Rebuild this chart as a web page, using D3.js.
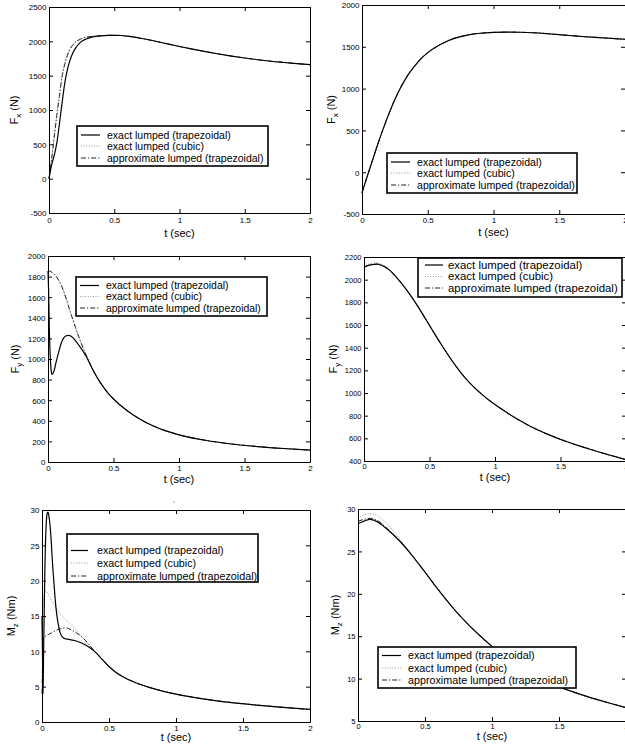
<!DOCTYPE html>
<html>
<head>
<meta charset="utf-8">
<script src="https://cdn.jsdelivr.net/npm/d3@7"></script>
<style>
  body { margin: 0; background: #fff; }
  svg { display: block; }
</style>
</head>
<body>
<div id="chart"></div>
<script>
const FONT = '"Liberation Sans", Arial, Helvetica, sans-serif';

// Shared
const xTicks = [0, 0.5, 1, 1.5, 2];
const seriesNames = ['exact lumped (trapezoidal)', 'exact lumped (cubic)', 'approximate lumped (trapezoidal)'];

// Top left: F_x, first case
// cubic / approx arrays only hold the start, where they leave the trapezoidal curve
const fxLeftT = [0, 0.02, 0.04, 0.06, 0.08, 0.1, 0.12, 0.14, 0.16, 0.18, 0.2, 0.24, 0.28, 0.32, 0.36, 0.4, 0.45, 0.5,
  0.55, 0.6, 0.7, 0.8, 0.9, 1.0, 1.1, 1.2, 1.3, 1.4, 1.5, 1.6, 1.7, 1.8, 1.9, 2.0];
const fxLeftTrap = [0, 200, 340, 520, 800, 1100, 1380, 1580, 1720, 1820, 1890, 1985, 2030, 2057, 2072, 2080, 2086, 2088,
  2085, 2075, 2045, 2008, 1966, 1925, 1886, 1850, 1816, 1785, 1757, 1732, 1710, 1692, 1675, 1660];
const fxLeftCubic = [0, 300, 640, 960, 1240, 1510, 1690, 1810, 1895, 1950, 1990, 2035, 2060, 2072, 2079, 2083, 2087, 2088];
const fxLeftApprox = [0, 280, 600, 920, 1200, 1480, 1660, 1790, 1880, 1940, 1985, 2030, 2057, 2070, 2077, 2082, 2086, 2088];
const fxLeftTicks = [-500, 0, 500, 1000, 1500, 2000, 2500];

// Top right: F_x, second case (all three curves coincide)
const fxRightT = [0, 0.05, 0.1, 0.15, 0.2, 0.25, 0.3, 0.35, 0.4, 0.45, 0.5, 0.6, 0.7, 0.8, 0.9, 1.0,
  1.1, 1.2, 1.3, 1.4, 1.5, 1.6, 1.7, 1.8, 1.9, 2.0];
const fxRightTrap = [-245, 0, 240, 470, 680, 870, 1030, 1165, 1270, 1360, 1430, 1530, 1600, 1640, 1662, 1672,
  1676, 1674, 1668, 1658, 1645, 1632, 1620, 1610, 1600, 1590];
const fxRightCubic = [];
const fxRightApprox = [];
const fxRightTicks = [-500, 0, 500, 1000, 1500, 2000];

// Middle left: F_y, first case
const fyLeftT = [0, 0.004, 0.01, 0.018, 0.025, 0.032, 0.045, 0.06, 0.08, 0.1, 0.12, 0.14, 0.155, 0.17, 0.19, 0.21,
  0.23, 0.25, 0.27, 0.29, 0.3, 0.35, 0.4, 0.45, 0.5, 0.6, 0.7, 0.8, 0.9, 1.0, 1.2, 1.4, 1.6, 1.8, 2.0];
const fyLeftTrap = [1855, 1700, 1300, 1000, 880, 850, 880, 960, 1060, 1150, 1205, 1226, 1230, 1226, 1207, 1178,
  1143, 1108, 1070, 1030, 1005, 877, 770, 682, 612, 502, 417, 352, 302, 264, 211, 175, 150, 131, 116];
const fyLeftCubic = [1858, 1858, 1857, 1853, 1848, 1843, 1829, 1808, 1770, 1722, 1657, 1582, 1522, 1461, 1382, 1306,
  1234, 1166, 1102, 1042, 1012];
const fyLeftApprox = [1855, 1855, 1854, 1850, 1845, 1840, 1826, 1805, 1768, 1720, 1655, 1580, 1520, 1460, 1381, 1305,
  1233, 1165, 1101, 1041, 1012];
const fyLeftTicks = [0, 200, 400, 600, 800, 1000, 1200, 1400, 1600, 1800, 2000];

// Middle right: F_y, second case
const fyRightT = [0, 0.05, 0.1, 0.15, 0.2, 0.25, 0.3, 0.35, 0.4, 0.45, 0.5, 0.55, 0.6, 0.65, 0.7, 0.75, 0.8, 0.85,
  0.9, 0.95, 1.0, 1.05, 1.1, 1.15, 1.2, 1.25, 1.3, 1.35, 1.4, 1.45, 1.5, 1.55, 1.6, 1.65, 1.7, 1.75, 1.8, 1.85,
  1.9, 1.95, 2.0];
const fyRightTrap = [2110, 2130, 2136, 2118, 2080, 2018, 1948, 1870, 1784, 1692, 1597, 1502, 1410, 1322, 1240, 1165,
  1098, 1040, 988, 941, 898, 858, 820, 784, 750, 718, 689, 662, 637, 613, 591, 570, 550, 531, 513, 495, 477, 460,
  444, 428, 412];
const fyRightCubic = [2115, 2142, 2148, 2128, 2082];
const fyRightApprox = [2112, 2133, 2139, 2121, 2080];
const fyRightTicks = [400, 600, 800, 1000, 1200, 1400, 1600, 1800, 2000, 2200];

// Bottom left: M_z, first case
const mzLeftT = [0, 0.004, 0.008, 0.012, 0.02, 0.03, 0.04, 0.045, 0.05, 0.06, 0.07, 0.08, 0.09, 0.1, 0.11, 0.12,
  0.13, 0.14, 0.16, 0.18, 0.2, 0.25, 0.3, 0.35, 0.4, 0.45, 0.5, 0.55, 0.6, 0.7, 0.8, 0.9, 1.0, 1.2, 1.4, 1.6, 1.8, 2.0];
const mzLeftTrap = [15, 9, 4, 10, 20, 27.5, 29.6, 29.7, 29.3, 27.8, 25.2, 22, 19.5, 17, 15.2, 14.0,
  13.0, 12.4, 11.9, 11.75, 11.7, 11.5, 11.15, 10.6, 9.85, 8.85, 7.85, 7.05, 6.45, 5.55, 4.9, 4.38, 3.95, 3.28, 2.78,
  2.4, 2.06, 1.78];
const mzLeftCubic = [14, 15.5, 16.8, 17.6, 18.3, 18.5, 18.3, 18.2, 18.0, 17.6, 17.2, 16.9, 16.6, 16.3, 16.0, 15.7,
  15.4, 15.1, 14.7, 14.4, 14.1, 13.1, 12.0, 10.9, 9.85];
const mzLeftApprox = [4, 8, 11.5, 12.0, 12.1, 12.2, 12.3, 12.35, 12.4, 12.5, 12.6, 12.7, 12.8, 12.9, 13.0, 13.1,
  13.15, 13.2, 13.3, 13.3, 13.2, 12.7, 12.0, 11.0, 9.85];
const mzLeftTicks = [0, 5, 10, 15, 20, 25, 30];

// Bottom right: M_z, second case
const mzRightT = [0, 0.05, 0.09, 0.15, 0.2, 0.3, 0.4, 0.5, 0.6, 0.7, 0.8, 0.9, 1.0,
  1.1, 1.2, 1.3, 1.4, 1.5, 1.6, 1.7, 1.8, 1.9, 2.0];
const mzRightTrap = [28.25, 28.6, 28.77, 28.45, 27.85, 26.4, 24.6, 22.55, 20.45, 18.5, 16.75, 15.2, 13.8,
  12.55, 11.47, 10.54, 9.74, 9.04, 8.46, 7.94, 7.46, 7.01, 6.59];
const mzRightCubic = [28.95, 29.35, 29.45, 29.15, 28.5, 26.7];
const mzRightApprox = [28.55, 28.8, 28.9, 28.6, 27.95, 26.45];
const mzRightTicks = [5, 10, 15, 20, 25, 30];

const panels = [
  { t: fxLeftT, trap: fxLeftTrap, cubic: fxLeftCubic, approx: fxLeftApprox, yTicks: fxLeftTicks, ylab: ['F', 'x', '(N)'],
    left: 49, right: 310, top: 7, bottom: 213, tickDy: 10, tickFont: 8, ylabX: 18, xlabY: 237,
    legend: { x: 77, y: 126, w: 191, h: 40, rows: [9, 20, 32], font: 10.5, s0: 4, s1: 23 } },
  { t: fxRightT, trap: fxRightTrap, cubic: fxRightCubic, approx: fxRightApprox, yTicks: fxRightTicks, ylab: ['F', 'x', '(N)'],
    left: 362, right: 625, top: 5, bottom: 214, tickDy: 8.5, tickFont: 8, ylabX: 335, xlabY: 236,
    legend: { x: 387, y: 153, w: 190, h: 40, rows: [9, 20, 32], font: 10.6, s0: 4, s1: 23 } },
  { t: fyLeftT, trap: fyLeftTrap, cubic: fyLeftCubic, approx: fyLeftApprox, yTicks: fyLeftTicks, ylab: ['F', 'y', '(N)'],
    left: 48, right: 310, top: 256, bottom: 462, tickDy: 9, tickFont: 8, ylabX: 19, xlabY: 483,
    legend: { x: 76, y: 277, w: 191, h: 39, rows: [8.5, 19.5, 31], font: 10.4, s0: 4, s1: 23 } },
  { t: fyRightT, trap: fyRightTrap, cubic: fyRightCubic, approx: fyRightApprox, yTicks: fyRightTicks, ylab: ['F', 'y', '(N)'],
    left: 364, right: 626, top: 257, bottom: 461, tickDy: 8, tickFont: 7.5, ylabX: 337, xlabY: 481,
    legend: { x: 418, y: 258, w: 204, h: 39, rows: [7, 18.5, 30], font: 11.4, s0: 7, s1: 25 } },
  { t: mzLeftT, trap: mzLeftTrap, cubic: mzLeftCubic, approx: mzLeftApprox, yTicks: mzLeftTicks, ylab: ['M', 'z', '(Nm)'],
    left: 42, right: 310, top: 510, bottom: 722, tickDy: 8.5, tickFont: 8, ylabX: 15, xlabY: 741,
    legend: { x: 67, y: 534, w: 191, h: 48, rows: [16.5, 29, 42], font: 10.75, s0: 4, s1: 21 } },
  { t: mzRightT, trap: mzRightTrap, cubic: mzRightCubic, approx: mzRightApprox, yTicks: mzRightTicks, ylab: ['M', 'z', '(Nm)'],
    left: 358, right: 626, top: 509, bottom: 721, tickDy: 7.5, tickFont: 7.5, ylabX: 339, xlabY: 740,
    legend: { x: 378, y: 647, w: 198, h: 41, rows: [8.5, 21, 33], font: 10.75, s0: 4, s1: 23 } }
];

const styles = [
  { stroke: '#000', width: 1.2, dash: null },          // exact trapezoidal
  { stroke: '#8c8c8c', width: 0.9, dash: '1,1.6' },    // exact cubic
  { stroke: '#222', width: 1, dash: '5,2,1.2,2' }      // approximate trapezoidal
];

const svg = d3.select('#chart').append('svg')
  .attr('width', 625)
  .attr('height', 748)
  .style('font-family', FONT);

function drawPanel(p) {
  const x = d3.scaleLinear().domain([0, 2]).range([p.left, p.right]);
  const y = d3.scaleLinear().domain([p.yTicks[0], p.yTicks[p.yTicks.length - 1]]).range([p.bottom, p.top]);
  const g = svg.append('g');

  // early values from the given array, the rest follows the trapezoidal curve
  const full = arr => p.t.map((t, i) => [t, i < arr.length ? arr[i] : p.trap[i]]);
  const line = d3.line()
    .x(d => x(d[0]))
    .y(d => y(d[1]))
    .curve(d3.curveMonotoneX);

  // draw cubic, approx, then trapezoidal on top
  [[p.cubic, 1], [p.approx, 2], [p.trap, 0]].forEach(([arr, s]) => {
    g.append('path')
      .datum(full(arr))
      .attr('fill', 'none')
      .attr('stroke', styles[s].stroke)
      .attr('stroke-width', styles[s].width)
      .attr('stroke-dasharray', styles[s].dash)
      .attr('d', line);
  });

  // Axes - MATLAB style box with inward ticks
  const fmt = d => String(d);
  const xb = g.append('g')
    .attr('transform', `translate(0,${p.bottom})`)
    .call(d3.axisBottom(x).tickValues(xTicks).tickSize(-4).tickSizeOuter(0).tickFormat(fmt));
  xb.selectAll('text').attr('y', p.tickDy).attr('dy', 0);

  const xt = g.append('g')
    .attr('transform', `translate(0,${p.top})`)
    .call(d3.axisTop(x).tickValues(xTicks).tickSize(-4).tickSizeOuter(0).tickFormat(''));

  const yl = g.append('g')
    .attr('transform', `translate(${p.left},0)`)
    .call(d3.axisLeft(y).tickValues(p.yTicks).tickSize(-4).tickSizeOuter(0).tickPadding(2.5).tickFormat(fmt));
  yl.selectAll('text').attr('dy', '0.35em');

  const yr = g.append('g')
    .attr('transform', `translate(${p.right},0)`)
    .call(d3.axisRight(y).tickValues(p.yTicks).tickSize(-4).tickSizeOuter(0).tickFormat(''));

  [xb, xt, yl, yr].forEach(a => {
    a.attr('font-family', FONT).attr('font-size', p.tickFont);
    a.selectAll('line, path').attr('stroke', '#000').attr('stroke-width', 1);
    a.selectAll('text').attr('fill', '#000');
  });

  // Axis labels
  g.append('text')
    .attr('x', (p.left + p.right) / 2)
    .attr('y', p.xlabY)
    .attr('text-anchor', 'middle')
    .attr('font-size', 11)
    .text('t (sec)');

  const yt = g.append('text')
    .attr('transform', `translate(${p.ylabX},${(p.top + p.bottom) / 2}) rotate(-90)`)
    .attr('text-anchor', 'middle')
    .attr('font-size', 11);
  yt.append('tspan').text(p.ylab[0]);
  yt.append('tspan').attr('font-size', 8).attr('dy', 3).text(p.ylab[1]);
  yt.append('tspan').attr('dy', -3).text('\u00a0' + p.ylab[2]);

  // Legend
  const lg = p.legend;
  const leg = g.append('g').attr('transform', `translate(${lg.x},${lg.y})`);
  leg.append('rect')
    .attr('width', lg.w)
    .attr('height', lg.h)
    .attr('fill', '#fff')
    .attr('stroke', '#000')
    .attr('stroke-width', 1.6);

  seriesNames.forEach((name, i) => {
    const ry = lg.rows[i];
    leg.append('line')
      .attr('x1', lg.s0).attr('x2', lg.s1)
      .attr('y1', ry).attr('y2', ry)
      .attr('stroke', styles[i].stroke)
      .attr('stroke-width', styles[i].width)
      .attr('stroke-dasharray', styles[i].dash);
    leg.append('text')
      .attr('x', 30)
      .attr('y', ry + lg.font * 0.35)
      .attr('font-size', lg.font)
      .text(name);
  });
}

panels.forEach(drawPanel);

// stray mark above the bottom-left panel
svg.append('text')
  .attr('x', 173).attr('y', 503)
  .attr('font-size', 4)
  .attr('fill', '#888')
  .text('s');
</script>
</body>
</html>
